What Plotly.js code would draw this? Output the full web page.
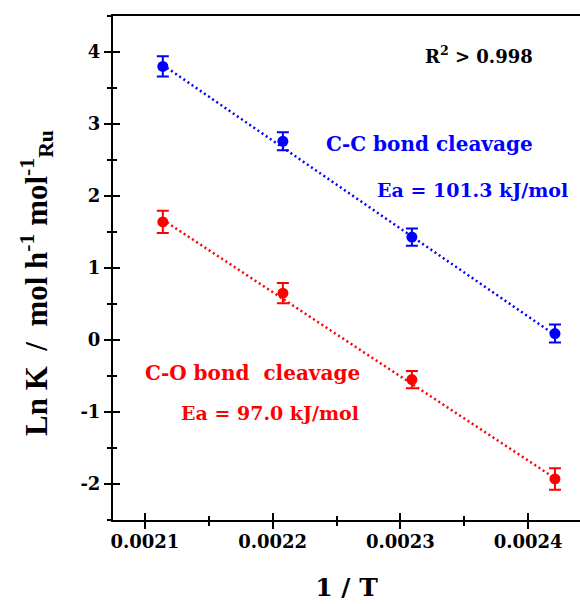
<!DOCTYPE html>
<html>
<head>
<meta charset="utf-8">
<script src="https://cdn.plot.ly/plotly-3.0.1.min.js"></script>
<style>html,body{margin:0;padding:0;background:#fff;}#chart{width:580px;height:604px;}</style>
</head>
<body>
<div id="chart"></div>
<script>
// Data
var invT = [0.002114, 0.002208, 0.002309, 0.002421];
var ccLnK = [3.80, 2.76, 1.43, 0.09];
var ccErr = [0.14, 0.125, 0.12, 0.125];
var coLnK = [1.64, 0.65, -0.55, -1.93];
var coErr = [0.155, 0.14, 0.12, 0.15];
var fitX = [0.002114, 0.002421];
var ccFit = [3.82, 0.07];
var coFit = [1.67, -1.92];
var xTickVals = [0.0021, 0.0022, 0.0023, 0.0024];
var xTickText = ['0.0021', '0.0022', '0.0023', '0.0024'];
var yTickVals = [-2, -1, 0, 1, 2, 3, 4];
var yTickText = ['-2', '-1', '0', '1', '2', '3', '4'];

var BLUE = '#0000ff', RED = '#ff0000';
var serif = 'DejaVu Serif, serif';

var traces = [
  {x: fitX, y: ccFit, mode: 'lines', line: {color: BLUE, width: 2.5, dash: '2px,3px'}, hoverinfo: 'skip', showlegend: false},
  {x: fitX, y: coFit, mode: 'lines', line: {color: RED, width: 2.5, dash: '2px,3px'}, hoverinfo: 'skip', showlegend: false},
  {x: invT, y: ccLnK, mode: 'markers', marker: {color: BLUE, size: 11},
   error_y: {type: 'data', array: ccErr, visible: true, color: BLUE, thickness: 2, width: 6}, showlegend: false},
  {x: invT, y: coLnK, mode: 'markers', marker: {color: RED, size: 11},
   error_y: {type: 'data', array: coErr, visible: true, color: RED, thickness: 2, width: 6}, showlegend: false},
  // invisible trace on overlay axes so the inner tick halves get drawn
  {x: [invT[0]], y: [ccLnK[0]], xaxis: 'x2', yaxis: 'y2', mode: 'markers', marker: {opacity: 0}, hoverinfo: 'skip', showlegend: false}
];

var xr = [0.002075, 0.0024406];
var yr = [-2.5, 4.5];
var tickFont = {family: serif, size: 18, color: '#000', weight: 700};

var layout = {
  width: 580, height: 604,
  margin: {l: 113, r: 0, t: 16, b: 84},
  paper_bgcolor: '#fff', plot_bgcolor: '#fff',
  showlegend: false,
  xaxis: {
    range: xr, showgrid: false, zeroline: false,
    showline: true, linecolor: '#000', linewidth: 2, mirror: true,
    tickmode: 'array', tickvals: xTickVals, ticktext: xTickText,
    ticks: 'outside', ticklen: 7, tickwidth: 2, tickcolor: '#000',
    ticklabelstandoff: -3,
    minor: {dtick: 0.00005, ticks: 'outside', ticklen: 4, tickwidth: 2, tickcolor: '#000', showgrid: false, tick0: 0.00205},
    tickfont: tickFont,
    title: {text: '1 / T', font: {family: serif, size: 25, color: '#000', weight: 700}, standoff: 28}
  },
  yaxis: {
    range: yr, showgrid: false, zeroline: false,
    showline: true, linecolor: '#000', linewidth: 2, mirror: false,
    tickmode: 'array', tickvals: yTickVals, ticktext: yTickText,
    ticks: 'outside', ticklen: 7, tickwidth: 2, tickcolor: '#000',
    minor: {dtick: 0.5, tick0: 0, ticks: 'outside', ticklen: 4, tickwidth: 2, tickcolor: '#000', showgrid: false},
    tickfont: tickFont
  },
  xaxis2: {
    overlaying: 'x', anchor: 'y2', side: 'bottom', range: xr, showgrid: false, zeroline: false, showline: false,
    tickmode: 'array', tickvals: xTickVals, showticklabels: false,
    ticks: 'inside', ticklen: 7, tickwidth: 2, tickcolor: '#000',
    minor: {dtick: 0.00005, tick0: 0.00205, ticks: 'inside', ticklen: 4, tickwidth: 2, tickcolor: '#000', showgrid: false}
  },
  yaxis2: {
    overlaying: 'y', anchor: 'x2', side: 'left', range: yr, showgrid: false, zeroline: false, showline: false,
    tickmode: 'array', tickvals: yTickVals, showticklabels: false,
    ticks: 'inside', ticklen: 7, tickwidth: 2, tickcolor: '#000',
    minor: {dtick: 0.5, tick0: 0, ticks: 'inside', ticklen: 4, tickwidth: 2, tickcolor: '#000', showgrid: false}
  },
  annotations: [
    {xref: 'paper', yref: 'paper', x: -0.163, y: 0.47, xanchor: 'center', yanchor: 'middle',
     textangle: -90, showarrow: false,
     text: 'Ln K  /  mol h<sup>-1</sup> mol<sup>-1</sup><sub>Ru</sub>',
     font: {family: 'Liberation Serif, serif', size: 31, color: '#000', weight: 700}},
    {xref: 'x', yref: 'y', x: 0.002318, y: 3.96, xanchor: 'left', yanchor: 'middle', showarrow: false,
     text: 'R<sup>2</sup> > 0.998', font: {family: serif, size: 18, color: '#000', weight: 700}},
    {xref: 'x', yref: 'y', x: 0.00224, y: 2.72, xanchor: 'left', yanchor: 'middle', showarrow: false,
     text: 'C-C bond cleavage', font: {family: serif, size: 20, color: BLUE, weight: 700}},
    {xref: 'x', yref: 'y', x: 0.00228, y: 2.09, xanchor: 'left', yanchor: 'middle', showarrow: false,
     text: 'Ea = 101.3 kJ/mol', font: {family: serif, size: 19, color: BLUE, weight: 700}},
    {xref: 'x', yref: 'y', x: 0.0020984, y: -0.46, xanchor: 'left', yanchor: 'middle', showarrow: false,
     text: 'C-O bond  cleavage', font: {family: serif, size: 20, color: RED, weight: 700}},
    {xref: 'x', yref: 'y', x: 0.002127, y: -1.02, xanchor: 'left', yanchor: 'middle', showarrow: false,
     text: 'Ea = 97.0 kJ/mol', font: {family: serif, size: 19, color: RED, weight: 700}}
  ]
};

Plotly.newPlot('chart', traces, layout, {staticPlot: true, displayModeBar: false});
</script>
</body>
</html>
